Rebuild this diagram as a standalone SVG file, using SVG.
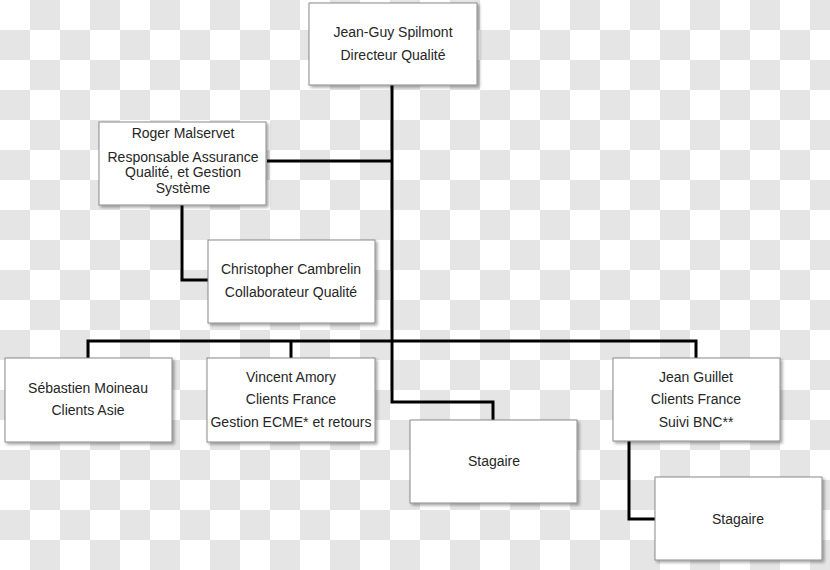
<svg xmlns="http://www.w3.org/2000/svg" width="830" height="570" viewBox="0 0 830 570">
<style>
.box{fill:#ffffff;stroke:#8a8a8a;stroke-width:1;filter:url(#sh)}
.t{font-family:"Liberation Sans",Arial,sans-serif;font-size:14px;fill:#262626;text-anchor:middle}
.c{fill:none;stroke:#000000;stroke-width:3;stroke-linejoin:miter}
</style>
<defs>
<pattern id="chk" x="0" y="0" width="60" height="60" patternUnits="userSpaceOnUse">
<rect width="60" height="60" fill="#ffffff"/>
<rect x="30" y="0" width="30" height="30" fill="#e5e5e5"/>
<rect x="0" y="30" width="30" height="30" fill="#e5e5e5"/>
</pattern>
<filter id="sh" x="-10%" y="-10%" width="130%" height="130%">
<feDropShadow dx="2" dy="2" stdDeviation="1.5" flood-color="#000000" flood-opacity="0.35"/>
</filter>
</defs>
<rect width="830" height="570" fill="url(#chk)"/>
<g id="connectors">
<path class="c" d="M392 85 V402 H493 V420"/>
<path class="c" d="M267 161 H392"/>
<path class="c" d="M182 205 V280 H208"/>
<path class="c" d="M88 358 V341 H696 V358"/>
<path class="c" d="M291 341 V358"/>
<path class="c" d="M629 441 V519 H655"/>
</g>
<g id="jean-guy">
<rect class="box" x="309" y="3" width="168" height="82"/>
<text class="t" x="393" y="37">Jean-Guy Spilmont</text>
<text class="t" x="393" y="60">Directeur Qualité</text>
</g>
<g id="roger">
<rect class="box" x="99" y="122" width="167" height="83"/>
<text class="t" x="183" y="138">Roger Malservet</text>
<text class="t" x="183" y="162">Responsable Assurance</text>
<text class="t" x="183" y="177">Qualité, et Gestion</text>
<text class="t" x="183" y="193">Système</text>
</g>
<g id="christopher">
<rect class="box" x="208" y="240" width="167" height="83"/>
<text class="t" x="291" y="274">Christopher Cambrelin</text>
<text class="t" x="291" y="297">Collaborateur Qualité</text>
</g>
<g id="sebastien">
<rect class="box" x="5" y="358" width="167" height="84"/>
<text class="t" x="88" y="393">Sébastien Moineau</text>
<text class="t" x="88" y="415">Clients Asie</text>
</g>
<g id="vincent">
<rect class="box" x="207" y="358" width="168" height="84"/>
<text class="t" x="291" y="382">Vincent Amory</text>
<text class="t" x="291" y="404">Clients France</text>
<text class="t" x="291" y="427">Gestion ECME* et retours</text>
</g>
<g id="stagaire1">
<rect class="box" x="410" y="420" width="167" height="83"/>
<text class="t" x="494" y="466">Stagaire</text>
</g>
<g id="jean-guillet">
<rect class="box" x="613" y="358" width="167" height="83"/>
<text class="t" x="696" y="382">Jean Guillet</text>
<text class="t" x="696" y="404">Clients France</text>
<text class="t" x="696" y="427">Suivi BNC**</text>
</g>
<g id="stagaire2">
<rect class="box" x="655" y="477" width="167" height="83"/>
<text class="t" x="738" y="524">Stagaire</text>
</g>
</svg>
